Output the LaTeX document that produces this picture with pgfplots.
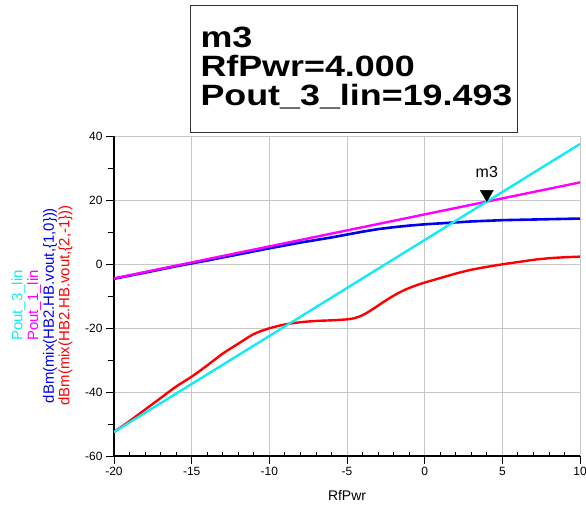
\documentclass[border=0pt]{standalone}
\usepackage{fontspec}
\setmainfont{Liberation Sans}
\newfontfamily\boxfont[FakeStretch=1.22]{Liberation Sans}
\usepackage{pgfplots}
\pgfplotsset{compat=1.18}

\definecolor{pcyan}{RGB}{20,235,240}
\definecolor{pmag}{RGB}{255,0,255}
\definecolor{pblue}{RGB}{0,0,235}
\definecolor{pred}{RGB}{255,0,0}

\newcommand{\yl}{\fontsize{15}{15.7}\selectfont}

\begin{document}
\begin{tikzpicture}
\begin{axis}[
  scale only axis,
  width=466bp, height=320bp,
  xmin=-20, xmax=10, ymin=-60, ymax=40,
  xtick={-20,-15,...,10}, ytick={-60,-40,...,40},
  minor y tick num=1,
  extra x ticks={-19,-18,-17,-16,-14,-13,-12,-11,-9,-8,-7,-6,-4,-3,-2,-1,1,2,3,4,6,7,8,9},
  extra x tick style={grid=none, major tick length=-4.5bp, xticklabel={}},
  axis x line*=bottom, axis y line*=left,
  axis line style={line width=1.2bp, black, -},
  grid=major,
  major grid style={draw=black!22, line width=0.8bp},
  tick align=outside,
  major tick length=8bp, minor tick length=5.5bp,
  tick style={black, line width=0.8bp},
  ticklabel style={font=\fontsize{12}{12}\selectfont},
  /pgf/number format/assume math mode=true,
  xlabel={\fontsize{14}{14}\selectfont RfPwr},
  xlabel style={yshift=-4bp},
  ylabel={\textcolor{pcyan}{\yl Pout\_3\_lin}\\\textcolor{pmag}{\yl Pout\_1\_lin}\\\textcolor{pblue}{\yl dBm(mix(HB2.HB.vout,\{1,0\}))}\\\textcolor{pred}{\yl dBm(mix(HB2.HB.vout,\{2,-1\}))}},
  ylabel style={align=center, font=\yl,
    at={(axis description cs:-0.0815,0.47)}, anchor=south},
]
% fundamental, dBm(mix(HB2.HB.vout,{1,0}))
\addplot[pblue, line width=2.6bp] coordinates {
(-20,-4.6) (-18,-2.7) (-16,-0.7) (-14,1.1) (-12,3.0) (-10,4.9) (-8,6.7)
(-6,8.3) (-5,9.2) (-4,10.1) (-3,10.9) (-2,11.5) (-1,12.0) (0,12.4)
(1,12.7) (2,13.0) (3,13.3) (4,13.5) (5,13.7) (6,13.8) (8,14.0) (10,14.2)};
% Pout_1_lin
\addplot[pmag, line width=2.4bp] coordinates {(-20,-4.5) (-10,5.5) (0,15.5) (10,25.5)};
% IM3, dBm(mix(HB2.HB.vout,{2,-1}))
\addplot[pred, line width=2.4bp, smooth] coordinates {
(-20,-52.5) (-19,-49.1) (-18,-45.5) (-17,-41.9) (-16,-38.3) (-15,-35.2)
(-14,-31.7) (-13,-28.0) (-12,-24.9) (-11,-21.9) (-10,-20.1) (-9,-18.9)
(-8,-18.2) (-7,-17.8) (-6,-17.6) (-5,-17.3) (-4.5,-16.9) (-4,-16.0)
(-3.5,-14.6) (-3,-13.0) (-2.5,-11.4) (-2,-9.9) (-1.5,-8.6) (-1,-7.5)
(-0.5,-6.6) (0,-5.8) (1,-4.4) (2,-3.0) (3,-1.8) (4,-0.9) (5,-0.1)
(6,0.6) (7,1.3) (8,1.8) (9,2.1) (10,2.3)};
% Pout_3_lin
\addplot[pcyan, line width=2.4bp] coordinates {(-20,-52.5) (-10,-22.5) (0,7.5) (10,37.5)};
% marker m3
\addplot[only marks, mark=triangle*, mark size=7.5bp,
  mark options={fill=black, draw=black, yshift=7.5bp, rotate=180},
  nodes near coords={m3},
  nodes near coords style={font=\fontsize{16}{16}\selectfont, anchor=south, yshift=13bp, text=black}]
  coordinates {(4,19.493)};
\end{axis}
\node[draw=black!80, line width=1bp, anchor=south west, minimum width=327bp,
  minimum height=127bp, text width=307bp, align=left, inner xsep=10bp,
  font=\boxfont\bfseries\fontsize{29.5}{29}\selectfont]
  at ([xshift=76bp,yshift=3bp]current axis.north west)
  {m3\\RfPwr=4.000\\Pout\_3\_lin=19.493\vphantom{g}\\[-6bp]};
\pgfresetboundingbox
\path (-114bp,-54bp) rectangle (472bp,456bp);
\end{tikzpicture}
\end{document}
